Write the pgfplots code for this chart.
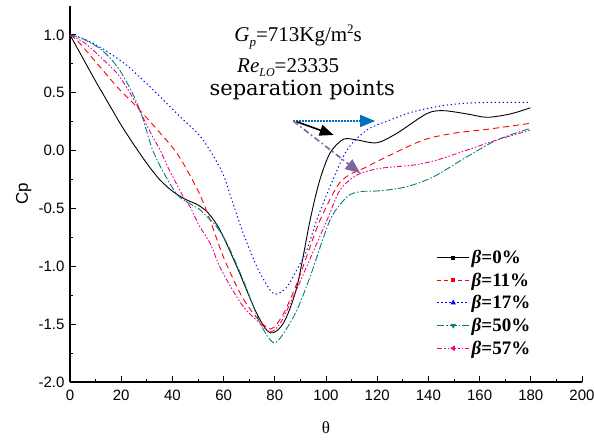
\documentclass[border=0pt]{standalone}
\usepackage{pgfplots}
\pgfplotsset{compat=1.18}
\usepackage{fontspec}
\setmainfont{Liberation Sans}
\newfontfamily\tnr{Liberation Serif}
\newfontfamily\dvs{DejaVu Serif}
\usetikzlibrary{arrows.meta}
\definecolor{tealc}{RGB}{0,128,128}
\definecolor{arrowblue}{RGB}{0,112,192}
\definecolor{arrowpurple}{RGB}{128,100,162}
\begin{document}
\begin{tikzpicture}
\useasboundingbox (-70pt,-57pt) rectangle (524pt,382pt);
\begin{axis}[
  scale only axis, width=512pt, height=376pt,
  xmin=0, xmax=200, ymin=-2, ymax=1.25,
  axis x line*=bottom, axis y line*=left,
  axis line style={line width=1.1pt},
  xtick={0,20,...,200}, minor x tick num=1,
  ytick={-2,-1.5,-1,-0.5,0,0.5,1}, minor y tick num=1,
  tick align=inside, major tick length=6pt, minor tick length=3.5pt,
  every tick/.style={black, line width=1pt},
  /pgf/number format/assume math mode=true,
  ticklabel style={font=\fontsize{15}{15}\selectfont},
  xticklabel style={yshift=-4pt},
  yticklabel style={xshift=-2pt, /pgf/number format/fixed, /pgf/number format/fixed zerofill, /pgf/number format/precision=1},
  xlabel={\tnr\fontsize{17}{17}\selectfont θ},
  ylabel={\fontsize{17}{17}\selectfont Cp},
  xlabel style={at={(axis description cs:0.5,0)}, yshift=-36pt},
  ylabel style={at={(axis description cs:0,0.5)}, yshift=35pt},
  legend style={draw=none, fill=none, at={(axis description cs:0.71,0.362)}, anchor=north west,
    font=\tnr\bfseries\fontsize{19}{19}\selectfont, row sep=3.8pt},
  legend cell align=left,
  legend image code/.code={\draw[#1, mark repeat=2, mark phase=2] plot coordinates {(0pt,0pt) (16pt,0pt) (32pt,0pt)};},
]
% beta = 0%
\addplot[black, line width=0.9pt, smooth, forget plot] coordinates {
(0,1.0) (5,0.80) (10,0.60) (15,0.41) (20,0.22) (25,0.05) (30,-0.11) (35,-0.25) (40,-0.35) (45,-0.42) (50,-0.47) (54,-0.54) (58.6,-0.687) (65.2,-1.004) (73,-1.41) (78.2,-1.575) (83.4,-1.49) (88.6,-1.18) (93.8,-0.6) (97.5,-0.26) (101.6,-0.02) (106.8,0.098) (112.1,0.092) (119.9,0.068) (127.7,0.15) (139.4,0.32) (145.9,0.345) (155.1,0.317) (162.9,0.288) (172,0.317) (179.8,0.37)};
% beta = 11%
\addplot[red, line width=0.9pt, dash pattern=on 6pt off 4pt, smooth, forget plot] coordinates {
(0,1.0) (3.2,0.942) (11.1,0.74) (18.9,0.539) (25.4,0.394) (34.5,0.17) (42.3,-0.04) (50.2,-0.355) (54.7,-0.6) (59.9,-0.918) (66.5,-1.234) (71.7,-1.41) (76.9,-1.53) (79.5,-1.53) (83.4,-1.41) (88.6,-1.15) (93.8,-0.83) (97.7,-0.6) (104.3,-0.31) (109,-0.21) (114.7,-0.153) (125.1,-0.038) (138.1,0.092) (149.8,0.15) (162.9,0.184) (179.8,0.236)};
% beta = 17%
\addplot[blue, line width=1pt, dash pattern=on 1.3pt off 2.7pt, smooth, forget plot] coordinates {
(0,1.0) (5,0.97) (12.4,0.885) (21.5,0.75) (27,0.64) (33.2,0.51) (42.3,0.308) (51.5,0.106) (59.3,-0.18) (63.2,-0.427) (67.7,-0.716) (73,-1.004) (78.2,-1.206) (80.8,-1.24) (84.7,-1.18) (88.6,-1.03) (92.5,-0.86) (96.4,-0.6) (101.6,-0.31) (108.2,0.005) (116,0.178) (125.1,0.265) (134.2,0.337) (147.3,0.394) (160.3,0.415) (179.8,0.418)};
% beta = 50%
\addplot[tealc, line width=0.9pt, dash pattern=on 7pt off 2pt on 1.5pt off 2pt, smooth, forget plot] coordinates {
(0,1.0) (4.6,0.97) (12.4,0.87) (18.9,0.712) (24.1,0.51) (28,0.308) (32.2,0.01) (36.8,-0.2) (42,-0.384) (46.9,-0.46) (50.2,-0.50) (53,-0.56) (57,-0.65) (61.3,-0.8) (67.7,-1.12) (74.3,-1.494) (79.5,-1.66) (83.4,-1.58) (88.6,-1.38) (93.8,-1.09) (101.6,-0.6) (108.2,-0.4) (113.4,-0.355) (121.2,-0.347) (131.6,-0.312) (142,-0.226) (155.1,-0.053) (166.8,0.092) (179.8,0.193)};
% beta = 57%
\addplot[magenta, line width=0.9pt, dash pattern=on 5pt off 2pt on 1.5pt off 2pt on 1.5pt off 2pt, smooth, forget plot] coordinates {
(0,1.0) (5.9,0.928) (12.4,0.798) (18.9,0.654) (25.4,0.423) (31.9,0.135) (35.2,0.005) (38.4,-0.15) (44.3,-0.40) (46.9,-0.485) (50.5,-0.65) (54.7,-0.8) (58,-0.98) (61.3,-1.12) (67.7,-1.35) (74.3,-1.494) (78.2,-1.567) (82.1,-1.494) (87.3,-1.26) (92.5,-1.0) (100.4,-0.6) (105.5,-0.34) (112.1,-0.211) (121.2,-0.153) (134.2,-0.125) (143.4,-0.081) (155.1,0.005) (166.8,0.092) (179.8,0.178)};
\addlegendimage{black, line width=0.9pt, mark=square*, mark size=1.5pt}
\addlegendentry{\textit{β}=0\%}
\addlegendimage{red, line width=0.9pt, dash pattern=on 4pt off 3pt, mark=square*, mark size=1.5pt, mark options={solid}}
\addlegendentry{\textit{β}=11\%}
\addlegendimage{blue, line width=1pt, dash pattern=on 1.3pt off 2.7pt, mark=triangle*, mark size=2.2pt, mark options={solid}}
\addlegendentry{\textit{β}=17\%}
\addlegendimage{tealc, line width=0.9pt, dash pattern=on 7pt off 2pt on 1.5pt off 2pt, mark=triangle*, mark size=2.2pt, mark options={solid, rotate=180}}
\addlegendentry{\textit{β}=50\%}
\addlegendimage{magenta, line width=0.9pt, dash pattern=on 5pt off 2pt on 1.5pt off 2pt on 1.5pt off 2pt, mark=triangle*, mark size=2.2pt, mark options={solid, rotate=90}}
\addlegendentry{\textit{β}=57\%}
% annotations
\node[anchor=base, font=\tnr\fontsize{21}{21}\selectfont] at (axis cs:89.1,0.942) {\textit{G}\raisebox{-5pt}{\fontsize{13}{13}\selectfont\textit{p}}=713Kg/m\raisebox{8pt}{\fontsize{13}{13}\selectfont 2}s};
\node[anchor=base, font=\tnr\fontsize{21}{21}\selectfont] at (axis cs:85.2,0.675) {\textit{Re}\raisebox{-4pt}{\fontsize{12}{12}\selectfont\textit{LO}}=23335};
\node[anchor=base, font=\dvs\fontsize{21}{21}\selectfont] at (axis cs:90.7,0.478) {separation points};
\draw[arrowblue, line width=1.6pt, dash pattern=on 1.5pt off 1.5pt, -{Triangle[length=15pt,width=12pt]}] (axis cs:87.2,0.256) -- (axis cs:119.2,0.256);
\draw[black, line width=1.6pt, -{Triangle[length=14pt,width=11pt]}] (axis cs:88.5,0.25) -- (axis cs:103,0.135);
\draw[arrowpurple, line width=1.6pt, dash pattern=on 6pt off 3pt on 1.5pt off 3pt, -{Triangle[length=15pt,width=12pt]}] (axis cs:87.2,0.256) -- (axis cs:113.4,-0.196);
\end{axis}
\end{tikzpicture}
\end{document}
